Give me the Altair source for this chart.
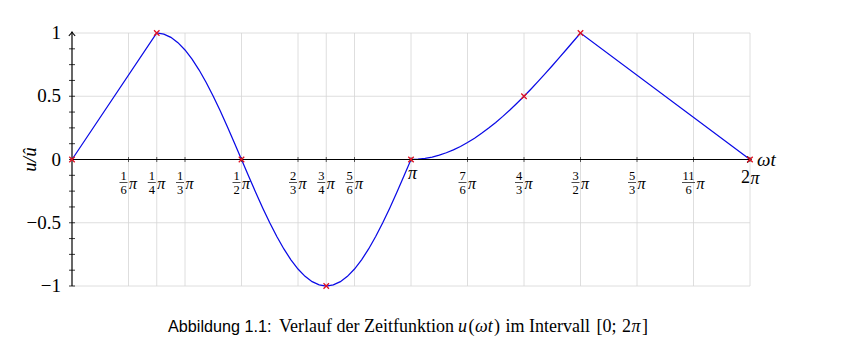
import altair as alt
import pandas as pd

# ---- data ----
# sample positions of the curve in units of pi/48
x_48 = [0, 12, 13, 14, 15, 16, 17, 18, 19, 20, 21, 22, 23, 24, 25, 26, 27, 28, 29,
        30, 31, 32, 33, 34, 35, 36, 37, 38, 39, 40, 41, 42, 43, 44, 45, 46, 47, 48,
        49, 50, 51, 52, 53, 54, 55, 56, 57, 58, 59, 60, 61, 62, 63, 64, 65, 66, 67,
        68, 69, 70, 71, 72, 96]
u_val = [0, 1, 0.9914, 0.9659, 0.9239, 0.8660, 0.7934, 0.7071, 0.6088, 0.5, 0.3827,
         0.2588, 0.1305, 0, -0.1305, -0.2588, -0.3827, -0.5, -0.6088, -0.7071, -0.7934,
         -0.8660, -0.9239, -0.9659, -0.9914, -1, -0.9914, -0.9659, -0.9239, -0.8660,
         -0.7934, -0.7071, -0.6088, -0.5, -0.3827, -0.2588, -0.1305, 0,
         0.0021, 0.0086, 0.0192, 0.0341, 0.0531, 0.0761, 0.1031, 0.1340, 0.1685, 0.2066,
         0.2482, 0.2929, 0.3407, 0.3912, 0.4444, 0.5, 0.5577, 0.6173, 0.6786, 0.7412,
         0.8049, 0.8695, 0.9346, 1, 0]

# marked points (units of pi/48)
mark_x48 = [0, 12, 24, 36, 48, 64, 72, 96]
mark_u = [0, 1, 0, -1, 0, 0.5, 1, 0]

# x tick labels (fractions of pi)
tick_num = [1, 1, 1, 1, 2, 3, 5, 7, 4, 3, 5, 11]
tick_den = [6, 4, 3, 2, 3, 4, 6, 6, 3, 2, 3, 6]

y_ticks = [-1, -0.5, 0, 0.5, 1]
y_tick_text = ["−1", "−0.5", "0", "0.5", "1"]
y_minor = [-1, -0.875, -0.75, -0.625, -0.5, -0.375, -0.25, -0.125, 0,
           0.125, 0.25, 0.375, 0.5, 0.625, 0.75, 0.875]

caption_text = ["Abbildung 1.1:", "Verlauf der Zeitfunktion", "u", "(", "ωt", ")",
                "im Intervall", "[0;", "2", "π", "]"]

# ---- tables ----
curve = pd.DataFrame({"x": [v / 48 for v in x_48], "u": u_val})
marks = pd.DataFrame({"x": [v / 48 for v in mark_x48], "u": mark_u})
fr = pd.DataFrame({"num": [str(n) for n in tick_num], "den": [str(d) for d in tick_den],
                   "pos": [n / d for n, d in zip(tick_num, tick_den)]})
fr["wide"] = fr["num"].str.len() > 1
all_ticks = pd.DataFrame({"pos": list(fr["pos"]) + [1, 2]})
ymin = pd.DataFrame({"u": y_minor})
ylab = pd.DataFrame({"u": y_ticks, "t": y_tick_text})
one = pd.DataFrame({"k": ["a"]})

W, H = 678, 253
Y0 = H / 2  # pixel row of u = 0
xs = alt.Scale(domain=[0, 2], nice=False, zero=False)
ys = alt.Scale(domain=[-1, 1], nice=False, zero=False)
SERIF = "Liberation Serif"
GRID = "#d6d6d6"


def XF(f):
    return alt.X(f + ":Q", scale=xs, axis=None)


def YF(f):
    return alt.Y(f + ":Q", scale=ys, axis=None)


line = alt.Chart(curve).mark_line(color="#0a0ae6", strokeWidth=1.25).encode(
    x=XF("x"), y=YF("u"))

vgrid = alt.Chart(all_ticks).mark_rule(color=GRID, strokeWidth=0.8).encode(
    x=XF("pos"), y=alt.value(0), y2=alt.value(H))
hgrid = alt.Chart(ylab).mark_rule(color=GRID, strokeWidth=0.8).encode(
    y=YF("u"), x=alt.value(0), x2=alt.value(W))
ylabels = alt.Chart(ylab).mark_text(font=SERIF, fontSize=19, align="right",
                                     baseline="middle", color="black").encode(
    y=YF("u"), x=alt.value(-11), text="t:N")

xaxis_line = alt.Chart(one).mark_rule(color="black", strokeWidth=1.2).encode(
    x=alt.value(0), x2=alt.value(W), y=alt.value(Y0))
yaxis_line = alt.Chart(one).mark_rule(color="black", strokeWidth=1.2).encode(
    x=alt.value(0), y=alt.value(-1), y2=alt.value(H))

xticks = alt.Chart(all_ticks).mark_rule(color="#333333", strokeWidth=0.8).encode(
    x=XF("pos"), y=alt.value(Y0 - 2.5), y2=alt.value(Y0 + 2.5))
yticks = alt.Chart(ymin).mark_rule(color="#222222", strokeWidth=0.9).encode(
    y=YF("u"), x=alt.value(-3), x2=alt.value(3))

ARROW = "M -0.9 1.1 Q -0.25 0.45 0 0 Q 0.25 0.45 0.9 1.1"
yarrow = alt.Chart(one).mark_point(shape=ARROW, size=49, filled=False, color="black",
                                    strokeWidth=1.1, opacity=1).encode(
    x=alt.value(0), y=alt.value(-1))
xarrow = alt.Chart(one).mark_point(shape=ARROW, size=49, filled=False, color="black",
                                    strokeWidth=1.1, opacity=1, angle=90).encode(
    x=alt.value(W + 1), y=alt.value(Y0))

XMARK = "M -1 -1 L 1 1 M -1 1 L 1 -1"
pts = alt.Chart(marks).mark_point(shape=XMARK, size=30, filled=False, color="#e01020",
                                   strokeWidth=1.3, opacity=1).encode(x=XF("x"), y=YF("u"))

fx = XF("pos")
num_t = alt.Chart(fr).mark_text(font=SERIF, fontSize=12.5, dx=-5, baseline="middle",
                                 color="black").encode(x=fx, y=alt.value(143), text="num:N")
den_t = alt.Chart(fr).mark_text(font=SERIF, fontSize=12.5, dx=-5, baseline="middle",
                                 color="black").encode(x=fx, y=alt.value(156.5), text="den:N")
bar1 = alt.Chart(fr).transform_filter("!datum.wide").mark_rule(
    color="black", strokeWidth=0.7, xOffset=-9, x2Offset=-1).encode(
    x=fx, x2="pos:Q", y=alt.value(149.5))
bar2 = alt.Chart(fr).transform_filter("datum.wide").mark_rule(
    color="black", strokeWidth=0.7, xOffset=-11.5, x2Offset=1.5).encode(
    x=fx, x2="pos:Q", y=alt.value(149.5))
pi1 = alt.Chart(fr).transform_filter("!datum.wide").mark_text(
    text="π", font=SERIF, fontStyle="italic", fontSize=16, align="left", dx=0.5,
    baseline="middle", color="black").encode(x=fx, y=alt.value(150.5))
pi2 = alt.Chart(fr).transform_filter("datum.wide").mark_text(
    text="π", font=SERIF, fontStyle="italic", fontSize=16, align="left", dx=3,
    baseline="middle", color="black").encode(x=fx, y=alt.value(150.5))

pi_lab = alt.Chart(one).mark_text(text="π", font=SERIF, fontStyle="italic", fontSize=18,
                                   baseline="middle", color="black").encode(
    x=alt.value(W / 2 + 1.5), y=alt.value(140.5))
two_lab = alt.Chart(one).mark_text(text="2", font=SERIF, fontSize=18, align="right",
                                    baseline="middle", color="black").encode(
    x=alt.value(W), y=alt.value(145))
twopi_lab = alt.Chart(one).mark_text(text="π", font=SERIF, fontStyle="italic", fontSize=18,
                                      align="left", baseline="middle",
                                      color="black").encode(
    x=alt.value(W + 0.5), y=alt.value(145.5))
wt_lab = alt.Chart(one).mark_text(text="ωt", font=SERIF, fontStyle="italic", fontSize=19,
                                   align="left", baseline="middle",
                                   color="black").encode(
    x=alt.value(W + 7), y=alt.value(Y0))
ytitle = alt.Chart(one).mark_text(text="u/û", font=SERIF, fontStyle="italic", fontSize=19,
                                   angle=270, baseline="middle", color="black").encode(
    x=alt.value(-42), y=alt.value(Y0))

# caption pieces: (font, style, size, x position in px relative to plot)
cap_style = [("Liberation Sans", "normal", 16.2, 96),
             (SERIF, "normal", 18, 207),
             (SERIF, "italic", 18, 386),
             (SERIF, "normal", 18, 396.5),
             (SERIF, "italic", 18, 403),
             (SERIF, "normal", 18, 422),
             (SERIF, "normal", 18, 433.5),
             (SERIF, "normal", 18, 524.5),
             (SERIF, "normal", 18, 550),
             (SERIF, "italic", 18, 559.5),
             (SERIF, "normal", 18, 570)]
cap_layers = []
for txt, (fnt, sty, sz, px) in zip(caption_text, cap_style):
    cap_layers.append(
        alt.Chart(pd.DataFrame({"t": [txt]})).mark_text(
            font=fnt, fontStyle=sty, fontSize=sz, align="left", baseline="middle",
            color="black").encode(x=alt.value(px), y=alt.value(294), text="t:N"))

chart = alt.layer(
    vgrid, hgrid, line, ylabels, xticks, yticks, xaxis_line, yaxis_line, yarrow, xarrow,
    pts, num_t, den_t, bar1, bar2, pi1, pi2, pi_lab, two_lab, twopi_lab,
    wt_lab, ytitle, *cap_layers
).properties(
    width=W, height=H,
    autosize=alt.AutoSizeParams(type="none"),
    padding={"left": 72, "top": 33, "right": 91, "bottom": 71},
    background="white",
).configure_view(stroke=None)

chart.save("out.html", embed_options={"renderer": "svg", "actions": False})
